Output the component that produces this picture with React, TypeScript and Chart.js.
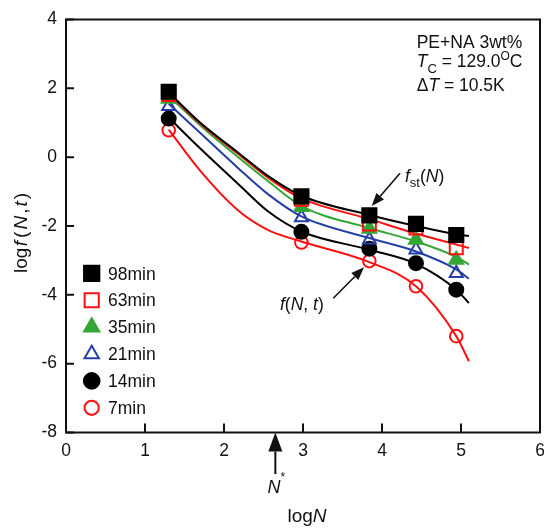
import React, { useEffect, useRef } from "react";
import { Chart, registerables } from "chart.js";

Chart.register(...registerables);

// log N of the measured points
const logN = [1.3, 2.98, 3.84, 4.43, 4.94];

// log f(N, t) for each annealing time
const f98 = [1.9, -1.14, -1.69, -1.94, -2.26];
const f63 = [1.82, -1.22, -1.94, -2.06, -2.63];
const f35 = [1.7, -1.45, -2.08, -2.4, -2.98];
const f21 = [1.48, -1.75, -2.4, -2.69, -3.37];
const f14 = [1.12, -2.17, -2.66, -3.08, -3.85];
const f7 = [0.78, -2.48, -3.02, -3.75, -5.2];

// fitted curves, sampled along log N
const fitLogN = [1.3, 1.7, 2.18, 2.56, 2.98, 3.84, 4.43, 4.94, 5.1];
const fit98 = [1.88, 1.0, 0.13, -0.55, -1.12, -1.68, -2.0, -2.24, -2.29];
const fit63 = [1.84, 0.97, 0.09, -0.6, -1.2, -1.8, -2.22, -2.54, -2.64];
const fit35 = [1.78, 0.92, 0.0, -0.7, -1.42, -2.06, -2.45, -2.9, -3.12];
const fit21 = [1.55, 0.7, -0.32, -1.08, -1.72, -2.35, -2.74, -3.26, -3.53];
const fit14 = [1.15, 0.25, -0.78, -1.58, -2.16, -2.69, -3.1, -3.85, -4.24];
const fit7 = [0.8, -0.4, -1.55, -2.12, -2.45, -3.05, -3.75, -5.2, -5.93];

const seriesLabels = ["98min", "63min", "35min", "21min", "14min", "7min"];
const nStar = 2.65;

const X_MIN = 0, X_MAX = 6, X_STEP = 1;
const Y_MIN = -8, Y_MAX = 4, Y_STEP = 2;

const FONT = '"Liberation Sans", Arial, Helvetica, sans-serif';
const RED = "#ff1010";
const GREEN = "#33a635";
const BLUE = "#2440a6";
const BLACK = "#000000";

type Style = { color: string; shape: string; filled: boolean; radius: number };
const styles: Style[] = [
  { color: BLACK, shape: "rect", filled: true, radius: 10 },
  { color: RED, shape: "rect", filled: false, radius: 9.2 },
  { color: GREEN, shape: "triangle", filled: true, radius: 8 },
  { color: BLUE, shape: "triangle", filled: false, radius: 7.5 },
  { color: BLACK, shape: "circle", filled: true, radius: 7 },
  { color: RED, shape: "circle", filled: false, radius: 6.3 },
];
const pointSeries = [f98, f63, f35, f21, f14, f7];
const fitSeries = [fit98, fit63, fit35, fit21, fit14, fit7];

type Seg = { t: string; it?: boolean; dy?: number; size?: number; gap?: number };

function drawRich(ctx: CanvasRenderingContext2D, segs: Seg[], x: number, y: number, center: boolean, base: number) {
  const fontOf = (s: Seg) => `${s.it ? "italic " : ""}${s.size ?? base}px ${FONT}`;
  let w = 0;
  for (const s of segs) {
    ctx.font = fontOf(s);
    w += ctx.measureText(s.t).width + (s.gap ?? 0);
  }
  let cx = center ? x - w / 2 : x;
  ctx.textAlign = "left";
  ctx.textBaseline = "alphabetic";
  for (const s of segs) {
    ctx.font = fontOf(s);
    ctx.fillText(s.t, cx, y + (s.dy ?? 0));
    cx += ctx.measureText(s.t).width + (s.gap ?? 0);
  }
}

function arrow(ctx: CanvasRenderingContext2D, x0: number, y0: number, x1: number, y1: number, head: number, half: number) {
  const a = Math.atan2(y1 - y0, x1 - x0);
  const bx = x1 - Math.cos(a) * head;
  const by = y1 - Math.sin(a) * head;
  ctx.beginPath();
  ctx.moveTo(x0, y0);
  ctx.lineTo(bx, by);
  ctx.stroke();
  ctx.beginPath();
  ctx.moveTo(x1, y1);
  ctx.lineTo(bx + Math.sin(a) * half, by - Math.cos(a) * half);
  ctx.lineTo(bx - Math.sin(a) * half, by + Math.cos(a) * half);
  ctx.closePath();
  ctx.fill();
}

// same geometry as Chart.js point styles, used for the legend keys
function marker(ctx: CanvasRenderingContext2D, st: Style, x: number, y: number, r: number) {
  ctx.beginPath();
  if (st.shape === "rect") {
    const s = r * Math.SQRT1_2;
    ctx.rect(x - s, y - s, 2 * s, 2 * s);
  } else if (st.shape === "triangle") {
    ctx.moveTo(x, y - r);
    ctx.lineTo(x + r * Math.sin((2 * Math.PI) / 3), y + r * 0.5);
    ctx.lineTo(x - r * Math.sin((2 * Math.PI) / 3), y + r * 0.5);
    ctx.closePath();
  } else {
    ctx.arc(x, y, r, 0, Math.PI * 2);
  }
  ctx.lineWidth = 2;
  ctx.strokeStyle = st.color;
  if (st.filled) {
    ctx.fillStyle = st.color;
    ctx.fill();
  }
  ctx.stroke();
}

const overlay = {
  id: "overlay",
  afterDraw(chart: any) {
    const ctx: CanvasRenderingContext2D = chart.ctx;
    const { left, right, top, bottom } = chart.chartArea;
    const xs = chart.scales.x;
    const ys = chart.scales.y;
    ctx.save();
    ctx.strokeStyle = "#111";
    ctx.fillStyle = "#111";
    ctx.lineWidth = 2;
    ctx.strokeRect(left, top, right - left, bottom - top);

    // inward tick marks
    ctx.beginPath();
    for (const t of xs.ticks) {
      const px = xs.getPixelForValue(t.value);
      ctx.moveTo(px, bottom);
      ctx.lineTo(px, bottom - 9);
    }
    for (const t of ys.ticks) {
      const py = ys.getPixelForValue(t.value);
      ctx.moveTo(left, py);
      ctx.lineTo(left + 8, py);
    }
    ctx.stroke();

    // legend
    const lx = 91.7;
    for (let i = 0; i < seriesLabels.length; i++) {
      const st = styles[i];
      const ly = 273.3 + i * 26.9;
      ctx.save();
      marker(ctx, st, lx, ly, st.radius + 0.8);
      ctx.restore();
      ctx.fillStyle = "#111";
      drawRich(ctx, [{ t: seriesLabels[i] }], 108, ly + 6.2, false, 17.5);
    }

    // sample description
    drawRich(ctx, [{ t: "PE+NA 3wt%" }], 416.7, 48.3, false, 17.5);
    drawRich(
      ctx,
      [
        { t: "T", it: true },
        { t: "C", size: 13, dy: 6 },
        { t: " = 129.0" },
        { t: "O", size: 12, dy: -7 },
        { t: "C" },
      ],
      416.7,
      66.7,
      false,
      17.5
    );
    drawRich(ctx, [{ t: "\u0394" }, { t: "T", it: true }, { t: " = 10.5K" }], 416.7, 91, false, 17.5);

    // curve annotations
    ctx.lineWidth = 1.6;
    arrow(ctx, 400, 173.3, 371.7, 206, 13, 5);
    arrow(ctx, 333.3, 298.3, 364, 267.3, 13, 5);
    drawRich(
      ctx,
      [{ t: "f", it: true }, { t: "st", size: 13, dy: 5 }, { t: "(" }, { t: "N", it: true }, { t: ")" }],
      405,
      182,
      false,
      17.5
    );
    drawRich(
      ctx,
      [{ t: "f", it: true }, { t: "(" }, { t: "N", it: true }, { t: ", " }, { t: "t", it: true }, { t: ")" }],
      280,
      310,
      false,
      17.5
    );

    // N* marker below the axis
    const nx = xs.getPixelForValue(nStar);
    ctx.lineWidth = 2;
    arrow(ctx, nx, 474, nx, bottom, 19, 7);
    drawRich(ctx, [{ t: "N", it: true }, { t: "*", size: 12, dy: -12 }], nx + 1, 493, true, 18);

    // axis titles
    drawRich(ctx, [{ t: "log" }, { t: "N", it: true }], 307, 522, true, 19);
    ctx.save();
    ctx.translate(27, 233);
    ctx.rotate(-Math.PI / 2);
    drawRich(
      ctx,
      [
        { t: "log", gap: 1.5 },
        { t: "f", it: true, gap: 3 },
        { t: "(", gap: 2 },
        { t: "N", it: true, gap: 2 },
        { t: ",", gap: 2 },
        { t: "t", it: true, gap: 2 },
        { t: ")" },
      ],
      0,
      0,
      true,
      19
    );
    ctx.restore();
    ctx.restore();
  },
};

export default function App() {
  const ref = useRef<HTMLCanvasElement | null>(null);

  useEffect(() => {
    if (!ref.current) return;
    const datasets: any[] = [];
    styles.forEach((st, i) => {
      datasets.push({
        type: "scatter",
        label: seriesLabels[i],
        data: logN.map((x, k) => ({ x, y: pointSeries[i][k] })),
        pointStyle: st.shape,
        pointRadius: st.radius,
        pointBorderWidth: 2,
        pointBorderColor: st.color,
        pointBackgroundColor: st.filled ? st.color : "rgba(0,0,0,0)",
        showLine: false,
        order: i + 1,
      });
    });
    styles.forEach((st, i) => {
      datasets.push({
        type: "line",
        label: seriesLabels[i] + " fit",
        data: fitLogN.map((x, k) => ({ x, y: fitSeries[i][k] })),
        borderColor: st.color,
        borderWidth: 2,
        pointRadius: 0,
        cubicInterpolationMode: "monotone",
        fill: false,
        order: 20 + i,
      });
    });

    const chart = new Chart(ref.current, {
      type: "scatter",
      data: { datasets },
      options: {
        animation: false,
        responsive: false,
        events: [],
        layout: { autoPadding: false, padding: { left: 0, right: 4, top: 17.5, bottom: 0 } },
        plugins: { legend: { display: false }, tooltip: { enabled: false } },
        scales: {
          x: {
            type: "linear",
            min: X_MIN,
            max: X_MAX,
            // invisible tick marks push the labels down; the negative padding keeps
            // the last label from shrinking the plot width
            grid: {
              display: true,
              drawOnChartArea: false,
              drawTicks: true,
              tickLength: 13,
              tickColor: "rgba(0,0,0,0)",
            },
            border: { display: false },
            ticks: { stepSize: X_STEP, padding: -5, color: "#111", font: { family: FONT, size: 17.5 } },
            afterFit: (s: any) => {
              s.height = 97.5;
            },
          },
          y: {
            type: "linear",
            min: Y_MIN,
            max: Y_MAX,
            grid: { display: false, drawTicks: false },
            border: { display: false },
            ticks: { stepSize: Y_STEP, padding: 9, color: "#111", font: { family: FONT, size: 17.5 } },
            afterFit: (s: any) => {
              s.width = 66;
            },
          },
        },
      } as any,
      plugins: [overlay],
    });
    return () => chart.destroy();
  }, []);

  return (
    <div style={{ position: "absolute", left: 0, top: 0, width: 544, height: 530, background: "#fff" }}>
      <canvas ref={ref} width={544} height={530} style={{ display: "block" }} />
    </div>
  );
}
